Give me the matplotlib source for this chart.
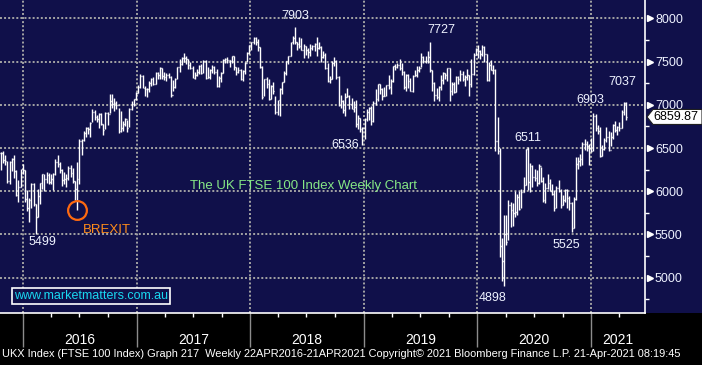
#!/usr/bin/env python3
"""FTSE 100 weekly bar chart in the Bloomberg dark style."""

import matplotlib

matplotlib.use("Agg")
import matplotlib.dates as mdates
import matplotlib.pyplot as plt
import matplotlib.transforms as mtransforms
import numpy as np
import pandas as pd
from matplotlib.patches import Polygon, Rectangle

plt.rcParams["font.family"] = ["Liberation Sans", "DejaVu Sans"]

# weekly bars, first week ending 23-Oct-2015, last week ending 23-Apr-2021
first_week = "2015-10-23"

close = [
    # 2015
    6444, 6361, 6353, 6118, 6334, 6375, 6238, 5952, 6052, 6254, 6242,
    # 2016
    5912, 5804, 5900, 6083, 5848, 5707, 5950, 6097, 6199, 6139, 6190, 6106, 6147,
    6204, 6344, 6310, 6242, 6125, 6138, 6156, 6270, 6209, 6116, 6021, 6138, 6577,
    6590, 6669, 6730, 6724, 6793, 6916, 6859, 6838, 6894, 6777, 6710, 6910, 6899,
    7044, 7014, 7020, 6996, 6693, 6730, 6775, 6840, 6730, 6954, 7012, 7068, 7142,
    # 2017
    7210, 7338, 7198, 7184, 7188, 7258, 7300, 7243, 7374, 7343, 7425, 7336, 7323,
    7349, 7327, 7115, 7204, 7297, 7435, 7470, 7548, 7548, 7527, 7464, 7424, 7313,
    7350, 7378, 7453, 7368, 7511, 7310, 7323, 7401, 7438, 7377, 7215, 7310, 7373,
    7522, 7535, 7523, 7505, 7560, 7433, 7380, 7409, 7300, 7394, 7490, 7603, 7688,
    # 2018
    7724, 7778, 7730, 7666, 7443, 7092, 7294, 7244, 7070, 7224, 7164, 6922, 7057,
    7183, 7265, 7368, 7502, 7567, 7724, 7779, 7730, 7701, 7681, 7633, 7682, 7637,
    7617, 7662, 7679, 7701, 7659, 7667, 7559, 7577, 7432, 7277, 7304, 7490, 7510,
    7318, 6996, 7049, 6940, 7094, 7105, 7014, 6953, 6980, 6778, 6845, 6721, 6733,
    # 2019
    6837, 6918, 6968, 6809, 7020, 7071, 7236, 7178, 7106, 7104, 7228, 7207, 7279,
    7446, 7437, 7459, 7428, 7380, 7203, 7348, 7277, 7161, 7331, 7345, 7407, 7426,
    7553, 7506, 7508, 7549, 7407, 7253, 7117, 7095, 7207, 7282, 7367, 7345, 7426,
    7155, 7247, 7150, 7324, 7302, 7359, 7302, 7326, 7347, 7240, 7353, 7582, 7645,
    # 2020
    7622, 7588, 7675, 7586, 7286, 7466, 7409, 7404, 6581, 6463, 5367, 5191, 5510,
    5416, 5843, 5787, 5752, 5763, 5936, 5799, 5993, 6077, 6484, 6105, 6293, 6159,
    6157, 6095, 6290, 6124, 5898, 6032, 6090, 6002, 5964, 5800, 6032, 6007, 5843,
    5902, 6017, 5920, 5860, 5577, 5910, 6316, 6351, 6368, 6550, 6547, 6529, 6502, 6461,
    # 2021
    6873, 6736, 6696, 6407, 6489, 6589, 6624, 6483, 6631, 6761, 6709, 6741, 6737,
    6916, 7020, 6860,
]

high = [
    6450, 6460, 6420, 6350, 6350, 6390, 6420, 6240, 6130, 6260, 6315,
    6245, 6010, 5920, 6090, 6100, 5850, 6030, 6100, 6200, 6200, 6220, 6210, 6200,
    6210, 6370, 6420, 6340, 6260, 6220, 6200, 6290, 6300, 6270, 6120, 6340, 6600,
    6600, 6700, 6740, 6740, 6800, 6950, 6940, 6880, 6900, 6900, 6780, 6920, 6920,
    7130, 7130, 7080, 7050, 6960, 6930, 6810, 6850, 6830, 6960, 7050, 7070, 7150,
    7230, 7360, 7340, 7220, 7200, 7280, 7310, 7320, 7380, 7380, 7440, 7430, 7380,
    7370, 7370, 7330, 7290, 7310, 7440, 7530, 7550, 7600, 7560, 7530, 7500, 7450,
    7380, 7420, 7460, 7470, 7520, 7520, 7440, 7410, 7460, 7450, 7420, 7330, 7380,
    7530, 7540, 7550, 7520, 7570, 7560, 7440, 7440, 7410, 7400, 7500, 7610, 7690,
    7730, 7790, 7790, 7760, 7670, 7450, 7300, 7320, 7300, 7230, 7260, 7100, 7060,
    7190, 7270, 7390, 7510, 7570, 7730, 7800, 7903, 7730, 7780, 7770, 7700, 7680,
    7660, 7700, 7690, 7720, 7780, 7730, 7680, 7620, 7600, 7480, 7330, 7510, 7550,
    7520, 7330, 7110, 7060, 7140, 7200, 7110, 7080, 7050, 7060, 6880, 6850, 6740,
    6850, 6950, 6980, 6990, 7040, 7180, 7240, 7240, 7200, 7210, 7230, 7340, 7300,
    7450, 7470, 7480, 7530, 7480, 7390, 7360, 7360, 7310, 7340, 7400, 7450, 7450,
    7600, 7560, 7560, 7620, 7727, 7400, 7270, 7200, 7220, 7340, 7380, 7370, 7430,
    7430, 7260, 7270, 7330, 7330, 7400, 7390, 7350, 7420, 7350, 7530, 7600, 7660,
    7690, 7640, 7690, 7680, 7590, 7500, 7520, 7460, 7410, 6860, 6500, 5460, 5730,
    5720, 5900, 5880, 5860, 6000, 5970, 6000, 6020, 6170, 6490, 6511, 6330, 6300,
    6260, 6250, 6320, 6280, 6170, 6090, 6200, 6140, 6080, 6010, 6060, 6130, 6030,
    5960, 6030, 6030, 5950, 5880, 5930, 6400, 6400, 6430, 6570, 6600, 6580, 6550, 6620,
    6903, 6890, 6770, 6740, 6540, 6620, 6740, 6700, 6690, 6780, 6810, 6760, 6800,
    6940, 7030, 7037,
]

low = [
    6250, 6330, 6300, 6100, 6080, 6230, 6150, 5940, 5870, 6050, 6200,
    5880, 5770, 5640, 5800, 5830, 5499, 5700, 5850, 6030, 6000, 6100, 6080, 6080,
    6010, 6190, 6280, 6210, 6060, 6080, 6050, 6130, 6170, 6100, 5900, 5788, 6080,
    6420, 6580, 6630, 6660, 6630, 6800, 6820, 6800, 6730, 6770, 6650, 6720, 6770,
    6900, 6960, 6930, 6950, 6670, 6690, 6700, 6760, 6680, 6740, 6940, 6990, 7060,
    7140, 7190, 7190, 7100, 7090, 7150, 7220, 7230, 7240, 7300, 7300, 7300, 7290,
    7280, 7310, 7090, 7160, 7200, 7300, 7380, 7460, 7500, 7470, 7410, 7410, 7310,
    7300, 7330, 7360, 7360, 7370, 7300, 7310, 7300, 7370, 7360, 7210, 7210, 7270,
    7370, 7480, 7490, 7440, 7480, 7400, 7350, 7370, 7290, 7280, 7360, 7500, 7590,
    7640, 7700, 7690, 7620, 7430, 7070, 7100, 7200, 7060, 7070, 7130, 6890, 6880,
    6870, 7120, 7260, 7340, 7470, 7560, 7710, 7700, 7630, 7660, 7630, 7540, 7580,
    7540, 7570, 7630, 7620, 7560, 7650, 7500, 7540, 7420, 7270, 7250, 7300, 7450,
    7300, 6990, 6960, 6900, 6870, 7090, 6950, 6950, 6920, 6740, 6720, 6680, 6536,
    6600, 6810, 6820, 6770, 6800, 7000, 7050, 7130, 7060, 7100, 7100, 7180, 7130,
    7270, 7400, 7430, 7400, 7340, 7180, 7160, 7200, 7160, 7150, 7330, 7320, 7380,
    7440, 7480, 7490, 7480, 7380, 7160, 7050, 7070, 7040, 7170, 7240, 7300, 7280,
    7050, 7110, 7140, 7150, 7240, 7280, 7280, 7220, 7290, 7100, 7210, 7350, 7580,
    7540, 7530, 7570, 7500, 7280, 7280, 7400, 7360, 6460, 6430, 5240, 4960, 4898,
    5380, 5430, 5580, 5600, 5700, 5720, 5780, 5800, 5990, 6070, 6010, 5990, 6050,
    6120, 6060, 6080, 6110, 5880, 5860, 6030, 6000, 5960, 5770, 5800, 5990, 5800,
    5840, 5880, 5800, 5780, 5525, 5570, 5900, 6260, 6290, 6300, 6480, 6460, 6300, 6450,
    6460, 6700, 6660, 6400, 6410, 6480, 6570, 6470, 6520, 6600, 6680, 6650, 6700,
    6730, 6880, 6830,
]

last_price = 6859.87
price_ticks = [5000, 5500, 6000, 6500, 7000, 7500, 8000]
year_labels = ["2016", "2017", "2018", "2019", "2020", "2021"]

# (value, which side of the bar, label offset in pixels)
callouts = [
    (7903, "high", 0, 11),
    (7727, "high", 11, 12),
    (6536, "low", -17, 0),
    (5499, "low", 7, -8),
    (4898, "low", -11, -12),
    (6511, "high", 0, 9),
    (5525, "low", -5, -13),
    (6903, "high", -3, 13),
    (7037, "high", -4, 20),
]
brexit_low = 5788

NAVY = "#10104a"
GRID = "#a4a4a4"
LABEL = "#eef2ff"
PX = 0.72  # points per pixel at dpi 100
NARROW = ["Liberation Sans Narrow", "Liberation Sans", "DejaVu Sans"]

dates = pd.date_range(first_week, periods=len(close), freq="W-FRI")
opens = [close[0]] + close[:-1]

fig = plt.figure(figsize=(7.02, 3.65), dpi=100, facecolor=NAVY)
fig.patches.append(Rectangle((0, 0), 1, 52 / 365, transform=fig.transFigure,
                             facecolor="black", edgecolor="none", zorder=-10))
ax = fig.add_axes([0, 52 / 365, 645 / 702, 313 / 365], facecolor=NAVY)

ax.set_xlim(pd.Timestamp("2015-10-20"), pd.Timestamp("2021-06-23"))
ax.set_ylim(4590, 8214)

# OHLC weekly bars
half = pd.Timedelta(days=2.6)
ax.vlines(dates, low, high, color="white", lw=1.0, zorder=3)
ax.hlines(opens, dates - half, dates, color="white", lw=1.0, zorder=3)
ax.hlines(close, dates, dates + half, color="white", lw=1.0, zorder=3)

# grid
for p in price_ticks:
    ax.axhline(p, color=GRID, lw=1.4, ls=(0, (1, 1.1)), zorder=1)
year_starts = [pd.Timestamp(f"{y}-01-01") for y in year_labels]
for d in year_starts:
    ax.axvline(d, color=GRID, lw=1.4, ls=(0, (1, 1.1)), zorder=1)

# spines and axes
for side in ("top", "left"):
    ax.spines[side].set_visible(False)
for side in ("right", "bottom"):
    ax.spines[side].set_color("white")
    ax.spines[side].set_linewidth(1.2)

ax.yaxis.tick_right()
ax.set_yticks(price_ticks)
ax.set_yticklabels([str(p) for p in price_ticks])
ax.set_yticks(np.arange(4750, 8250, 500), minor=True)
ax.tick_params(axis="y", which="major", length=0, pad=10 * PX, labelsize=9,
               labelcolor=LABEL)
ax.tick_params(axis="y", which="minor", length=4 * PX, width=1, color="white")
tri = mtransforms.blended_transform_factory(ax.transAxes, ax.transData)
ax.plot([1 + 4.5 / 645] * len(price_ticks), price_ticks, ls="none", marker=">",
        ms=5, color="white", transform=tri, clip_on=False, zorder=5)

ax.set_xticks(year_starts)
ax.set_xticklabels([])
ax.xaxis.set_minor_locator(mdates.MonthLocator(bymonth=[1, 4, 7, 10]))
ax.tick_params(axis="x", which="major", length=34 * PX, width=1, color="#8c8c8c")
ax.tick_params(axis="x", which="minor", length=4 * PX, width=1, color="white")

# year names centred in each year span (last one up to the right edge)
yr = mtransforms.blended_transform_factory(ax.transData, ax.transAxes)
x_right = ax.get_xlim()[1]
for i, label in enumerate(year_labels):
    left = mdates.date2num(year_starts[i])
    if i < len(year_labels) - 1:
        right = mdates.date2num(year_starts[i + 1])
    else:
        right = x_right
    ax.text((left + right) / 2, -27 / 313, label, transform=yr, ha="center",
            va="center", color="white", fontsize=10, family=NARROW,
            stretch="condensed")

# callout values
for value, side, dx, dy in callouts:
    src = high if side == "high" else low
    i = src.index(value)
    ax.annotate(str(value), xy=(dates[i], value), xytext=(dx * PX, dy * PX),
                textcoords="offset points", ha="center", va="center",
                color=LABEL, fontsize=9, zorder=6)

# brexit marker
bi = low.index(brexit_low)
ax.plot(dates[bi], brexit_low, marker="o", ms=13.5, mfc="none", mec="#ff6a10",
        mew=1.6, zorder=6)
ax.annotate("BREXIT", xy=(dates[bi], brexit_low), xytext=(30 * PX, -20 * PX),
            textcoords="offset points", ha="center", va="center",
            color="#ff8c1a", fontsize=9.5, zorder=6)

ax.text(304 / 645, (313 - 186) / 313, "The UK FTSE 100 Index Weekly Chart",
        transform=ax.transAxes, ha="center", va="center", color="#86e886",
        fontsize=9.5, zorder=6)

ax.text(91 / 645, (313 - 296) / 313, "www.marketmatters.com.au",
        transform=ax.transAxes, ha="center", va="center", color="#19d8f0",
        fontsize=9, zorder=6,
        bbox=dict(boxstyle="square,pad=0.15", fc=NAVY, ec="white", lw=1.2))

# last price tag
y_disp = ax.transData.transform((0, last_price))[1]
x0 = ax.transAxes.transform((1, 0))[0]
pts = np.array([
    [x0 + 2, y_disp],
    [x0 + 8, y_disp + 7.5],
    [x0 + 57, y_disp + 7.5],
    [x0 + 57, y_disp - 7.5],
    [x0 + 8, y_disp - 7.5],
])
fig.patches.append(Polygon(fig.transFigure.inverted().transform(pts), closed=True,
                           transform=fig.transFigure, facecolor="white",
                           edgecolor="#202020", lw=0.8, zorder=10))
fig.text((x0 + 31) / 702, y_disp / 365, f"{last_price:.2f}", ha="center",
         va="center", color="black", fontsize=9, zorder=11)

fig.text(0.003, 11 / 365,
         "UKX Index (FTSE 100 Index) Graph 217  Weekly 22APR2016-21APR2021 "
         "Copyright\u00a9 2021 Bloomberg Finance L.P. 21-Apr-2021 08:19:45",
         ha="left", va="center", color="white", fontsize=7.95, family=NARROW,
         stretch="condensed")

fig.savefig("out.png", dpi=100, facecolor=NAVY)
